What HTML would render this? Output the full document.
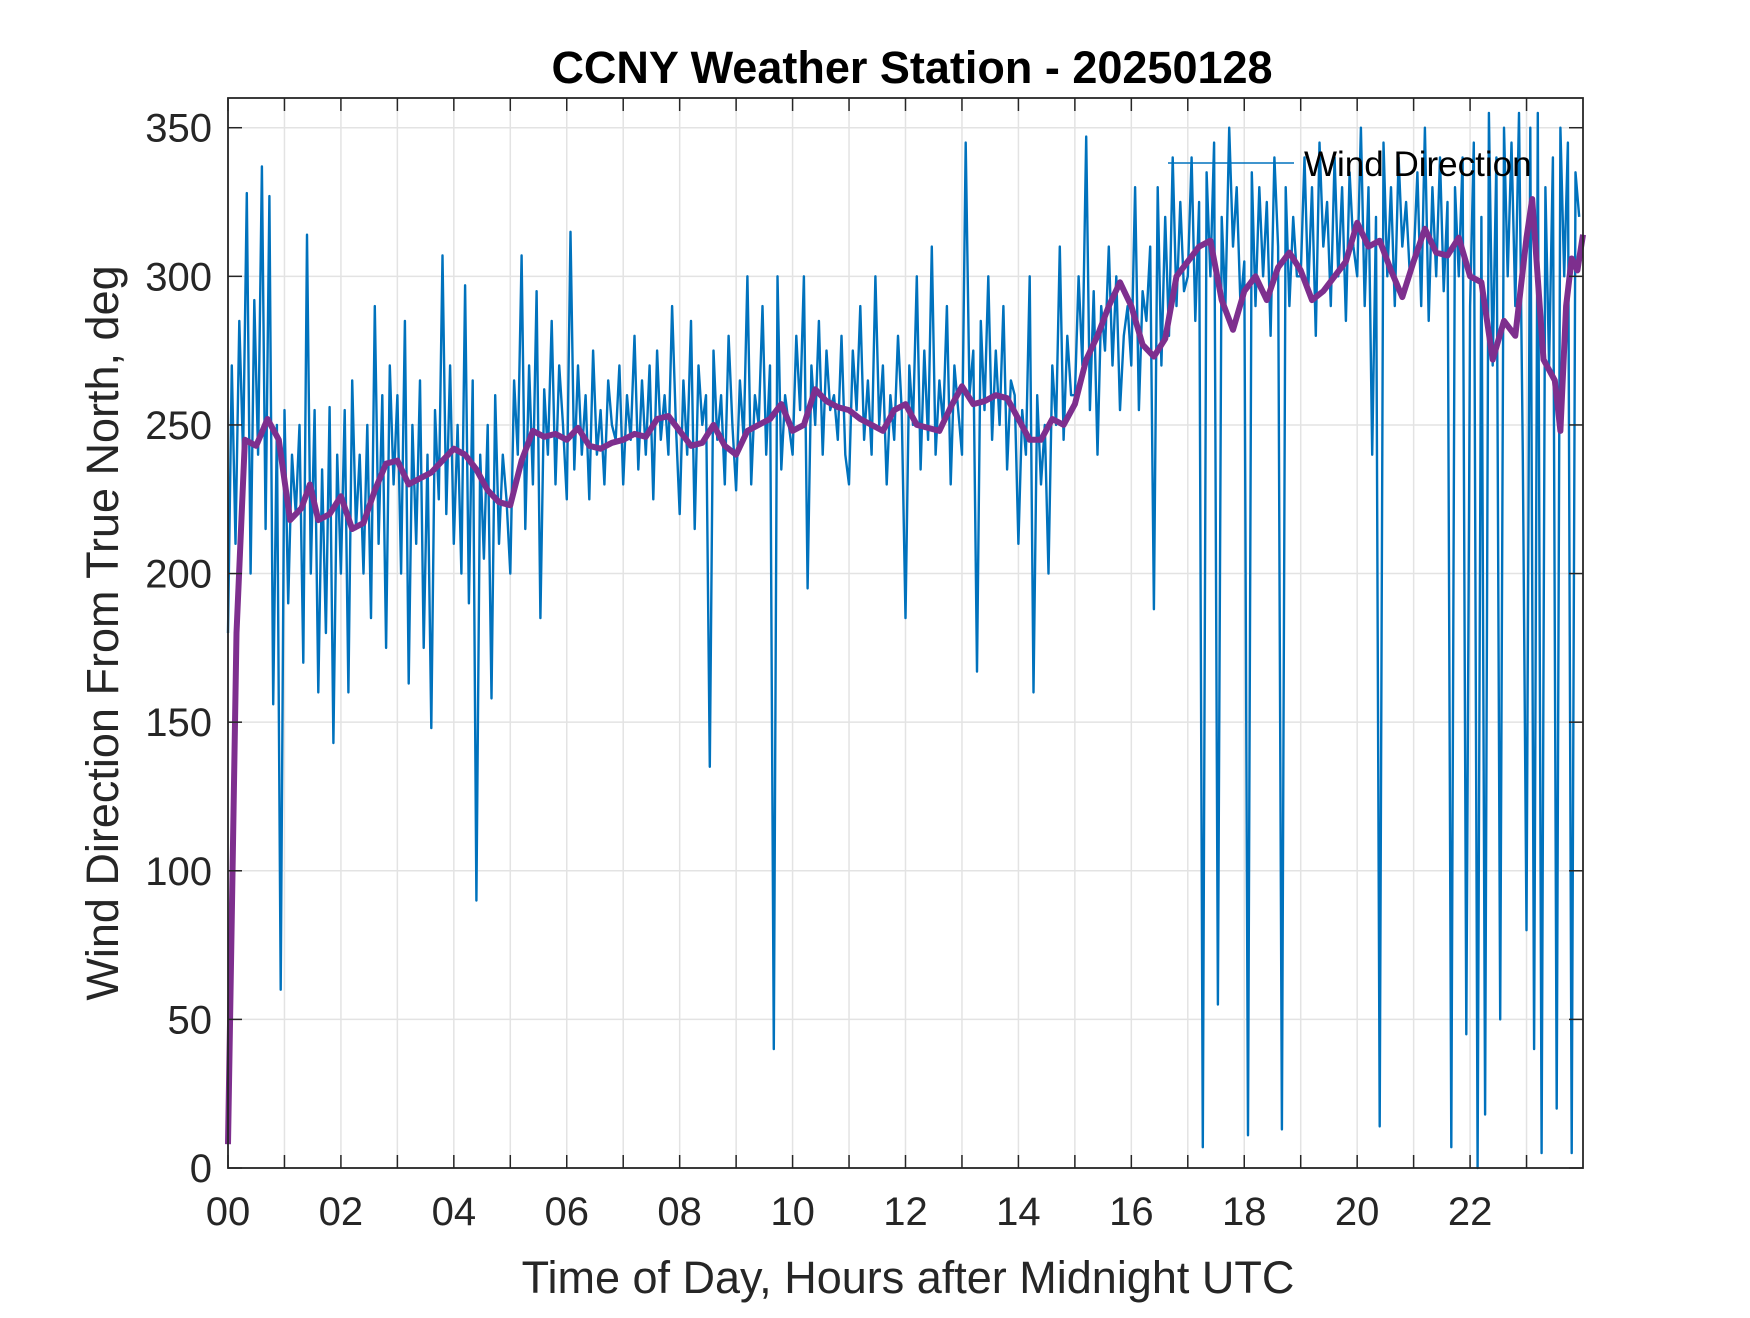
<!DOCTYPE html>
<html><head><meta charset="utf-8"><style>
body{margin:0;background:#fff;width:1750px;height:1313px;overflow:hidden}
svg text{font-family:"Liberation Sans",Arial,sans-serif}
</style></head><body>
<svg id="chart" width="1750" height="1313" viewBox="0 0 1750 1313" xmlns="http://www.w3.org/2000/svg">
<rect width="1750" height="1313" fill="#fff"/>
<g id="grid"></g>
<g id="series"></g>
<g id="axes"></g>
<text x="912" y="83" font-size="45" font-weight="bold" text-anchor="middle" fill="#000">CCNY Weather Station - 20250128</text>
<text x="908" y="1293" font-size="45" text-anchor="middle" fill="#262626">Time of Day, Hours after Midnight UTC</text>
<text transform="translate(118,633) rotate(-90)" font-size="45" text-anchor="middle" fill="#262626">Wind Direction From True North, deg</text>
<g>
<line x1="1168" y1="163" x2="1294" y2="163" stroke="#0072BD" stroke-width="1.5"/>
<text x="1304" y="176" font-size="35" fill="#000">Wind Direction</text>
</g>
</svg>
<script>
const xTicks=[0,2,4,6,8,10,12,14,16,18,20,22];
const xTickLabels=["00","02","04","06","08","10","12","14","16","18","20","22"];
const yTicks=[0,50,100,150,200,250,300,350];
const windRaw=[
180,270,210,285,240,328,200,292,240,337,215,327,156,250,60,
255,190,240,220,250,170,314,200,255,160,235,180,256,143,240,
200,255,160,265,215,240,200,250,185,290,210,260,175,270,230,
260,200,285,163,250,210,265,175,240,148,255,225,307,220,270,
210,250,200,297,190,265,90,240,205,250,158,260,210,240,225,
200,265,240,307,215,270,230,295,185,262,240,285,230,270,250,
225,315,235,270,240,260,225,275,240,255,230,265,250,245,270,
230,260,245,280,235,265,240,270,225,275,245,260,240,290,250,
220,265,240,285,215,270,250,260,135,275,245,260,230,280,250,
228,265,245,300,230,260,250,290,240,270,40,300,235,260,250,
240,280,255,300,195,270,250,285,240,275,255,260,245,280,240,
230,275,255,290,245,265,240,300,250,270,230,260,245,280,255,
185,270,250,300,235,275,245,310,240,265,250,290,230,270,255,
240,345,260,275,167,285,255,300,245,275,250,290,235,265,260,
210,255,240,300,160,260,230,250,200,270,250,310,245,280,260,
260,300,270,347,255,295,240,290,275,310,270,300,255,280,290,
270,330,255,295,285,310,188,330,270,320,280,340,290,325,295,
300,340,285,325,7,335,300,345,55,320,290,350,310,330,290,
305,11,335,290,330,300,325,280,340,310,13,330,290,320,300,
300,340,295,330,280,345,310,325,290,340,300,330,285,335,310,
300,350,290,330,240,320,14,345,300,330,290,340,310,325,300,
305,335,290,350,285,330,300,340,295,325,7,330,300,340,45,
290,345,0,320,18,355,270,340,50,350,300,345,290,355,240,
80,350,40,355,5,330,270,340,20,350,300,345,5,335,320];
const avgHours=[0,0.15,0.3,0.5,0.7,0.9,1.1,1.3,1.45,1.6,1.8,2.0,2.2,2.4,2.6,2.8,3.0,3.2,3.4,3.6,3.8,4.0,4.2,4.4,4.6,4.8,5.0,5.2,5.4,5.6,5.8,6.0,6.2,6.4,6.6,6.8,7.0,7.2,7.4,7.6,7.8,8.0,8.2,8.4,8.6,8.8,9.0,9.2,9.4,9.6,9.8,10.0,10.2,10.4,10.6,10.8,11.0,11.2,11.4,11.6,11.8,12.0,12.2,12.4,12.6,12.8,13.0,13.2,13.4,13.6,13.8,14.0,14.2,14.4,14.6,14.8,15.0,15.2,15.4,15.6,15.8,16.0,16.2,16.4,16.6,16.8,17.0,17.2,17.4,17.6,17.8,18.0,18.2,18.4,18.6,18.8,19.0,19.2,19.4,19.6,19.8,20.0,20.2,20.4,20.6,20.8,21.0,21.2,21.4,21.6,21.8,22.0,22.2,22.4,22.6,22.8,23.0,23.1,23.3,23.5,23.6,23.7,23.8,23.9,24.0];
const avgValues=[8,180,245,243,252,245,218,222,230,218,220,226,215,217,228,237,238,230,232,234,238,242,240,235,228,224,223,238,248,246,247,245,249,243,242,244,245,247,246,252,253,248,243,244,250,243,240,248,250,252,257,248,250,262,258,256,255,252,250,248,255,257,250,249,248,256,263,257,258,260,259,252,245,245,252,250,257,272,280,290,298,290,277,273,279,300,305,310,312,292,282,295,300,292,303,308,302,292,295,300,305,318,310,312,302,293,305,316,308,307,313,300,298,272,285,280,313,326,272,265,248,290,306,302,314];

const L=228,R=1583,T=98,B=1168,XMAX=24,YMAX=360;
const xs=h=>L+(R-L)*h/XMAX;
const ys=v=>B-(B-T)*v/YMAX;
const NS="http://www.w3.org/2000/svg";
function mk(tag,attrs,parent){const e=document.createElementNS(NS,tag);for(const k in attrs)e.setAttribute(k,attrs[k]);parent.appendChild(e);return e;}
const grid=document.getElementById('grid'),axes=document.getElementById('axes'),series=document.getElementById('series');
for(let i=0;i<=23;i++){
  const x=xs(i);
  const g=mk('line',{x1:x,y1:T,x2:x,y2:B,stroke:'#e3e3e3','stroke-width':1.5},grid);
  
  
  const t1=mk('line',{x1:x,y1:B,x2:x,y2:B-13,stroke:'#262626','stroke-width':1.5},axes);
  
  
  const t2=mk('line',{x1:x,y1:T,x2:x,y2:T+13,stroke:'#262626','stroke-width':1.5},axes);
  
  
}
xTicks.forEach((h,i)=>{
  const t=mk('text',{x:xs(h),y:B+57,'font-size':40,'text-anchor':'middle',fill:'#262626'},axes);
  t.textContent=xTickLabels[i];
  
  
});
yTicks.forEach(v=>{
  const y=ys(v);
  const g=mk('line',{x1:L,y1:y,x2:R,y2:y,stroke:'#e3e3e3','stroke-width':1.5},grid);
  
  
  const t1=mk('line',{x1:L,y1:y,x2:L+14,y2:y,stroke:'#262626','stroke-width':1.5},axes);
  
  
  const t2=mk('line',{x1:R,y1:y,x2:R-14,y2:y,stroke:'#262626','stroke-width':1.5},axes);
  
  
  const t=mk('text',{x:L-16,y:y+14,'font-size':40,'text-anchor':'end',fill:'#262626'},axes);
  t.textContent=String(v);
  
  
});
const box=mk('rect',{x:L,y:T,width:R-L,height:B-T,fill:'none',stroke:'#262626','stroke-width':1.8},axes);


const n=windRaw.length;
const rawPts=windRaw.map((v,i)=>xs(i*XMAX/n).toFixed(1)+','+ys(v).toFixed(1)).join(' ');
const raw=mk('polyline',{points:rawPts,fill:'none',stroke:'#0072BD','stroke-width':2.4,'stroke-linejoin':'round'},series);


const avgPts=avgHours.map((h,i)=>xs(h).toFixed(1)+','+ys(avgValues[i]).toFixed(1)).join(' ');
const avg=mk('polyline',{points:avgPts,fill:'none',stroke:'#7E2F8E','stroke-width':6,'stroke-linejoin':'round'},series);


</script>
</body></html>
